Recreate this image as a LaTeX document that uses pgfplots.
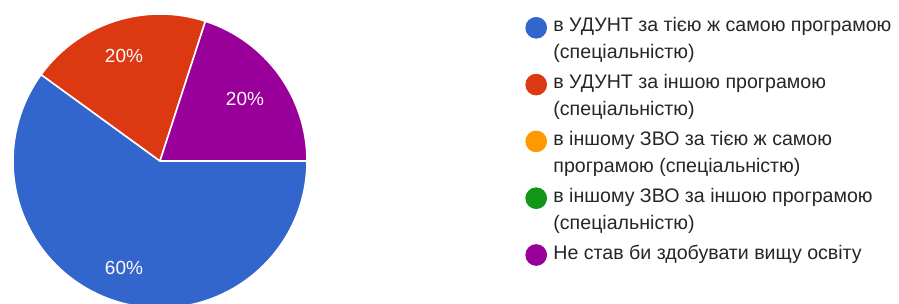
\documentclass[border=0pt]{standalone}
\usepackage{pgfplots}
\pgfplotsset{compat=1.18}
\usepackage{pgfplotstable}
\usepackage{fontspec}
\setmainfont{Liberation Sans}
\definecolor{gblue}{HTML}{3366CC}
\definecolor{gred}{HTML}{DC3912}
\definecolor{gorange}{HTML}{FF9900}
\definecolor{ggreen}{HTML}{109618}
\definecolor{gpurple}{HTML}{990099}
\definecolor{txt}{HTML}{262626}
\begin{document}
\begin{tikzpicture}
\path[use as bounding box] (0,0) rectangle (449.5pt,152pt);
\begin{axis}[
  x=0.5pt, y=0.5pt,
  xmin=0, xmax=899, ymin=0, ymax=304,
  at={(0,0)}, anchor=south west,
  hide axis, clip=true,
  legend style={draw=none, fill=none, at={(axis cs:519,295)}, anchor=north west,
    font=\fontsize{9.8}{13.3}\selectfont, text=txt,
    cells={anchor=north west, align=left}, row sep=2.3pt,
    /tikz/every odd column/.append style={column sep=1.2pt}},
  legend image code/.code={\fill[#1] (5.2pt,-7.2pt) circle (5.2pt);},
]
\addlegendimage{gblue}
\addlegendentry{в УДУНТ за тією ж самою програмою\\(спеціальністю)}
\addlegendimage{gred}
\addlegendentry{в УДУНТ за іншою програмою\\(спеціальністю)}
\addlegendimage{gorange}
\addlegendentry{в іншому ЗВО за тією ж самою\\програмою (спеціальністю)}
\addlegendimage{ggreen}
\addlegendentry{в іншому ЗВО за іншою програмою\\(спеціальністю)}
\addlegendimage{gpurple}
\addlegendentry{Не став би здобувати вищу освіту}
\xdef\startang{0}
\foreach \v/\c in {60/gblue,20/gred,0/gorange,0/ggreen,20/gpurple}{
  \pgfmathsetmacro\endang{\startang-3.6*\v}
  \ifdim\v pt>0pt
  \edef\temp{\noexpand\fill[\c, draw=white, line width=0.8pt, line join=round] (axis cs:160,143) -- ++(\startang:73.5pt) arc[start angle=\startang, end angle=\endang, radius=73.5pt] -- cycle;}
  \temp
  \fi
  \xdef\startang{\endang}
}
\node[text=white!92!pink, font=\fontsize{9.5}{10}\selectfont] at (axis cs:124,248) {20\%};
\node[text=white!92!pink, font=\fontsize{9.5}{10}\selectfont] at (axis cs:245,205) {20\%};
\node[text=white!92!pink, font=\fontsize{9.5}{10}\selectfont] at (axis cs:124,36) {60\%};
\end{axis}
\end{tikzpicture}
\end{document}
